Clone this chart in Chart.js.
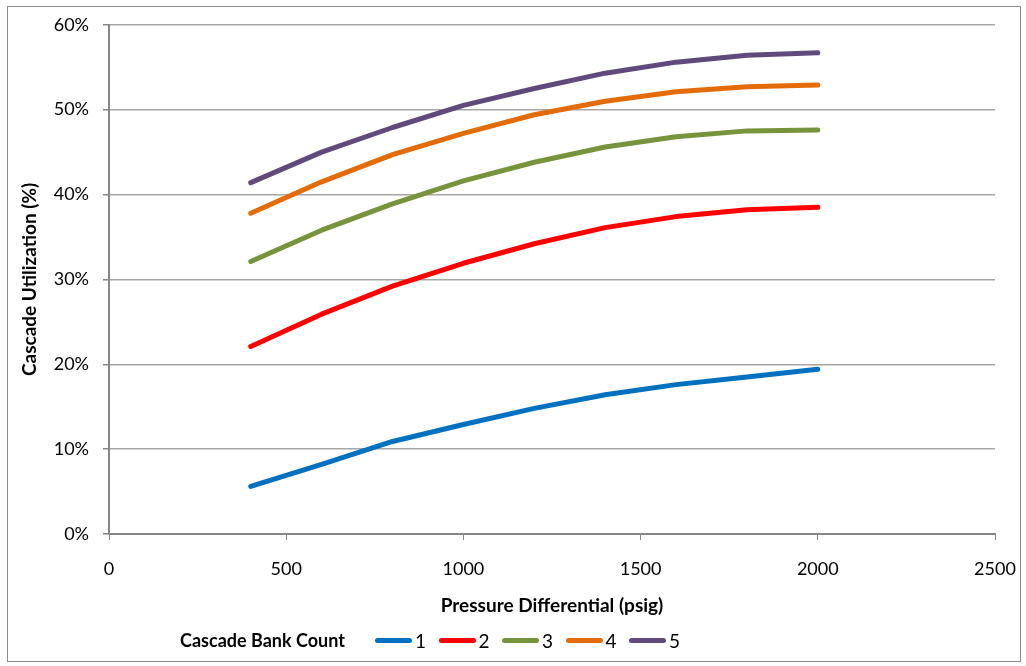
<!DOCTYPE html>
<html>
<head>
<meta charset="utf-8">
<script src="https://cdn.jsdelivr.net/npm/chart.js@4/dist/chart.umd.min.js"></script>
<style>
  html, body { margin: 0; padding: 0; background: #fff; }
  #wrap { position: relative; width: 1026px; height: 666px; }
  #frame { position: absolute; left: 7px; top: 6px; width: 1014px; height: 656px; border: 1px solid #8c8c8c; box-sizing: border-box; pointer-events: none; }
  canvas { position: absolute; left: 0; top: 0; }
  #legend { position: absolute; left: 180px; top: 629px; height: 22px; display: flex; align-items: center; font-family: Lato, "Liberation Sans", sans-serif; font-size: 19px; color: #000; }
  #legend .title { font-weight: bold; font-size: 18px; width: 195px; }
  #legend .item { display: flex; align-items: center; width: 63.5px; }
  #legend .swatch { width: 37px; height: 5px; border-radius: 3px; margin-right: 3px; }
</style>
</head>
<body>
<div id="wrap">
  <canvas id="c" width="1026" height="666"></canvas>
  <div id="frame"></div>
  <div id="legend"></div>
</div>
<script>
const pressures = [400, 600, 800, 1000, 1200, 1400, 1600, 1800, 2000];
const bank1 = [5.6, 8.2, 10.9, 12.9, 14.8, 16.4, 17.6, 18.5, 19.4];
const bank2 = [22.1, 25.9, 29.2, 31.9, 34.2, 36.1, 37.4, 38.2, 38.5];
const bank3 = [32.1, 35.8, 38.9, 41.6, 43.8, 45.6, 46.8, 47.5, 47.6];
const bank4 = [37.8, 41.5, 44.7, 47.2, 49.4, 51.0, 52.1, 52.7, 52.9];
const bank5 = [41.4, 45.0, 47.9, 50.5, 52.5, 54.3, 55.6, 56.4, 56.7];
const xTickValues = [0, 500, 1000, 1500, 2000, 2500];
const seriesNames = ['1', '2', '3', '4', '5'];
const seriesValues = [bank1, bank2, bank3, bank4, bank5];
const seriesColors = ['#0070C0', '#FF0000', '#77933C', '#E36C09', '#604A7B'];
const legendTitle = 'Cascade Bank Count';
const xTitle = 'Pressure Differential (psig)';
const yTitle = 'Cascade Utilization (%)';

const FONT = 'Lato, "Liberation Sans", sans-serif';

const datasets = seriesValues.map((vals, i) => ({
  label: seriesNames[i],
  data: pressures.map((p, j) => ({ x: p, y: vals[j] })),
  borderColor: seriesColors[i],
  backgroundColor: seriesColors[i],
  borderWidth: 5,
  borderCapStyle: 'round',
  borderJoinStyle: 'round',
  pointRadius: 0,
  tension: 0,
  fill: false
}));

new Chart(document.getElementById('c'), {
  type: 'line',
  data: { datasets },
  options: {
    responsive: false,
    animation: false,
    devicePixelRatio: 1,
    layout: { padding: { left: 14, right: 31, top: 24, bottom: 45 } },
    plugins: { legend: { display: false }, tooltip: { enabled: false } },
    scales: {
      x: {
        type: 'linear', min: 0, max: 2500,
        afterBuildTicks: (s) => { s.ticks = xTickValues.map(v => ({ value: v })); },
        ticks: { color: '#000', padding: 18, font: { family: FONT, size: 18 }, maxRotation: 0, callback: (v) => String(v) },
        grid: { drawOnChartArea: false, drawTicks: true, tickLength: 6, color: '#868686', lineWidth: 1 },
        border: { color: '#868686', width: 2 },
        title: { display: true, text: xTitle, color: '#000', font: { family: FONT, size: 19, weight: 'bold' }, padding: { top: 4, bottom: 4 } },
        afterFit: (s) => { s.height = 87; s.paddingRight = 0; s.paddingLeft = 0; }
      },
      y: {
        min: 0, max: 60,
        ticks: { stepSize: 10, color: '#000', padding: 14, font: { family: FONT, size: 18 }, callback: (v) => v + '%' },
        grid: { color: '#a6a6a6', lineWidth: 1.5, tickLength: 6, tickColor: '#868686' },
        border: { color: '#868686', width: 2 },
        title: { display: true, text: yTitle, color: '#000', font: { family: FONT, size: 19, weight: 'bold' }, padding: { top: 4, bottom: 4 } },
        afterFit: (s) => { s.width = 95; }
      }
    }
  }
});

const lg = document.getElementById('legend');
const t = document.createElement('div');
t.className = 'title';
t.textContent = legendTitle;
lg.appendChild(t);
seriesNames.forEach((n, i) => {
  const it = document.createElement('div');
  it.className = 'item';
  const sw = document.createElement('div');
  sw.className = 'swatch';
  sw.style.background = seriesColors[i];
  const tx = document.createElement('span');
  tx.textContent = n;
  it.appendChild(sw);
  it.appendChild(tx);
  lg.appendChild(it);
});
</script>
</body>
</html>
